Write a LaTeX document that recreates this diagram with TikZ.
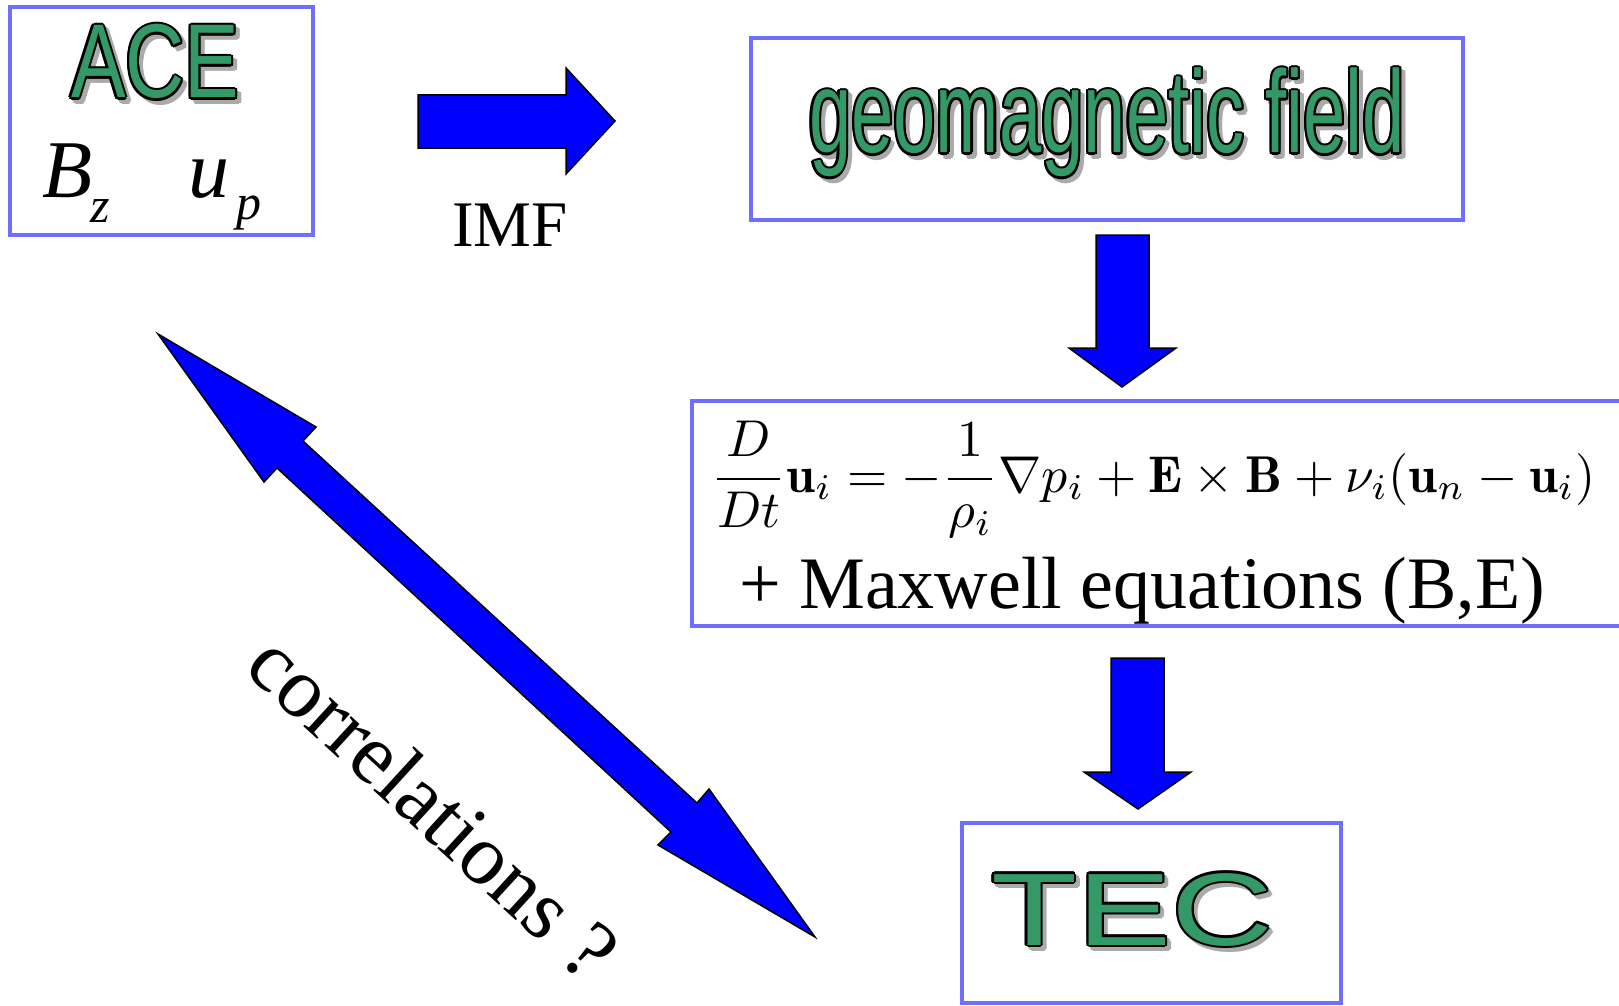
\documentclass[tikz,border=0pt]{standalone}
\usepackage{fontspec}
\usepackage{graphicx}
\usepackage{amsmath}
\newfontfamily\arialf{Liberation Sans}
\newfontfamily\timesf{Liberation Serif}
\definecolor{boxblue}{RGB}{110,110,255}
\definecolor{txtgreen}{RGB}{51,153,102}
\definecolor{arrowblue}{RGB}{0,0,255}
\definecolor{shadowgray}{RGB}{170,170,170}
\tikzset{
  boxst/.style={draw=boxblue, line width=4pt, inner sep=0pt},
  blockarrow/.style={fill=arrowblue, draw=black, line width=1.5pt, line join=miter},
  olbase/.style={anchor=base west, inner sep=0pt, outer sep=0pt},
  serif/.style={text=black, inner sep=0pt, outer sep=0pt},
}
\newcommand\outlinetext[3]{%
  \foreach \ang in {0,45,...,315}{%
    \node[olbase, text=shadowgray, xshift={4+2.2*cos(\ang)}, yshift={-4+2.2*sin(\ang)}] at #1 {#2};
  }%
  \foreach \ang in {0,30,...,330}{%
    \node[olbase, text=black, xshift={2.2*cos(\ang)}, yshift={2.2*sin(\ang)}] at #1 {#2};
  }%
  \node[olbase, text=txtgreen] (#3) at #1 {#2};
}
\newcommand\acetext{\arialf\fontsize{105}{110}\selectfont\scalebox{0.78}[1]{ACE}}
\newcommand\geotext{\arialf\fontsize{117}{120}\selectfont\scalebox{0.65}[1]{geomagnetic field}}
\newcommand\tectext{\arialf\fontsize{103}{110}\selectfont\scalebox{1.37}[1]{TEC}}
\begin{document}
\begin{tikzpicture}[x=1pt,y=-1pt]
\clip (0,0) rectangle (1619,1006);
\fill[white] (0,0) rectangle (1619,1006);

% boxes
\node[boxst, minimum width=303pt, minimum height=228pt] (acebox) at (161.5,121) {};
\node[boxst, minimum width=712pt, minimum height=182pt] (geobox) at (1107,129) {};
\node[boxst, minimum width=968pt, minimum height=225pt] (eqbox) at (1176,513.5) {};
\node[boxst, minimum width=379pt, minimum height=180pt] (tecbox) at (1151.5,913) {};

% outlined titles
\outlinetext{(71,98)}{\acetext}{ace}
\outlinetext{(809,153)}{\geotext}{geo}
\outlinetext{(991,945)}{\tectext}{tec}

% ACE quantities
\node[serif, anchor=base west, font={\timesf\itshape\fontsize{82}{90}\selectfont}] (bz) at (42,197) {B};
\node[serif, anchor=base west, font={\timesf\itshape\fontsize{50}{55}\selectfont}] (bzs) at (90,222) {z};
\node[serif, anchor=base west, font={\timesf\itshape\fontsize{82}{90}\selectfont}] (up) at (188,197) {u};
\node[serif, anchor=base west, font={\timesf\itshape\fontsize{50}{55}\selectfont}] (ups) at (236,219) {p};

% IMF label
\node[serif, anchor=base, font={\timesf\fontsize{65}{70}\selectfont}] (imf) at (510,246) {IMF};

% equations
\node[anchor=base west, inner sep=0pt] (eq) at (711,492) {\resizebox{884pt}{!}{$\displaystyle \frac{D}{Dt}\mathbf{u}_i=-\frac{1}{\rho_i}\nabla p_i+\mathbf{E}\times\mathbf{B}+\nu_i(\mathbf{u}_n-\mathbf{u}_i)$}};
\node[serif, anchor=base west, font={\timesf\fontsize{74}{80}\selectfont}] (maxw) at (739,608) {+ Maxwell equations (B,E)};

% correlations label
\node[serif, rotate=-42.5, font={\timesf\fontsize{86}{90}\selectfont}] (corr) at (434,806) {correlations ?};

% block arrows
\draw[blockarrow] (418,95) -- (566,95) -- (566,68) -- (615,121) -- (566,174) -- (566,148) -- (418,148) -- cycle;
\draw[blockarrow] (1096,235) -- (1149,235) -- (1149,348) -- (1176,348) -- (1122,387) -- (1069,348) -- (1096,348) -- cycle;
\draw[blockarrow] (1111,658) -- (1164,658) -- (1164,772) -- (1191,772) -- (1138,809) -- (1084,772) -- (1111,772) -- cycle;
\draw[blockarrow] (158,334) -- (316,427) -- (303,441) -- (697,803) -- (709,789) -- (815,937) -- (658,845) -- (671,832) -- (277,468) -- (264,482) -- cycle;
\end{tikzpicture}
\end{document}
